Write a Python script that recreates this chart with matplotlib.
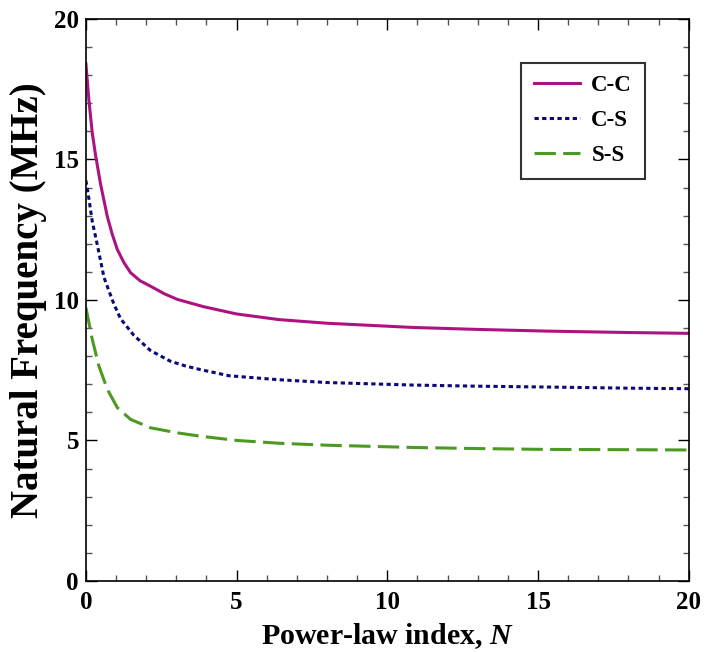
import matplotlib
matplotlib.use("Agg")
import matplotlib.pyplot as plt
from matplotlib.ticker import MultipleLocator

plt.rcParams["mathtext.fontset"] = "custom"
plt.rcParams["mathtext.it"] = "Liberation Serif:italic:bold"
plt.rcParams["mathtext.rm"] = "Liberation Serif:bold"

# Data
n_cc = [0.0, 0.1, 0.21, 0.32, 0.49, 0.71, 0.87, 1.04, 1.25, 1.48, 1.8, 2.14, 2.6, 3.03, 3.9, 5.0, 6.4, 8.0, 10.85, 13.0, 15.3, 18.0, 20.0]
f_cc = [18.4, 17.1, 15.95, 15.15, 14.1, 12.97, 12.35, 11.8, 11.35, 10.97, 10.68, 10.49, 10.22, 10.02, 9.76, 9.5, 9.3, 9.17, 9.02, 8.95, 8.89, 8.84, 8.81]

n_cs = [0.0, 0.1, 0.21, 0.38, 0.6, 0.82, 0.93, 1.15, 1.59, 2.14, 2.8, 3.3, 3.8, 4.76, 6.4, 8.0, 10.85, 13.0, 15.3, 18.0, 20.0]
f_cs = [14.25, 13.6, 12.8, 11.95, 10.8, 10.16, 9.85, 9.33, 8.74, 8.2, 7.82, 7.65, 7.52, 7.3, 7.16, 7.06, 6.97, 6.93, 6.9, 6.86, 6.84]

n_ss = [0.0, 0.21, 0.43, 0.71, 1.04, 1.48, 2.14, 3.03, 3.8, 5.0, 6.4, 8.0, 10.85, 13.0, 15.3, 18.0, 20.0]
f_ss = [9.73, 8.6, 7.65, 6.82, 6.17, 5.75, 5.45, 5.27, 5.15, 5.0, 4.9, 4.83, 4.75, 4.71, 4.68, 4.67, 4.66]

labels = ["C-C", "C-S", "S-S"]

fig = plt.figure(figsize=(7.10, 6.52), dpi=100)
ax = fig.add_axes([0.121, 0.109, 0.849, 0.862])

font = "Liberation Serif"
ax.plot(n_cc, f_cc, color="#ab1480", lw=2.2, label=labels[0], solid_joinstyle="round")
ax.plot(n_cs, f_cs, color="#0a0a78", lw=2.2, linestyle=(0, (1.4, 1.1)), label=labels[1])
ax.plot(n_ss, f_ss, color="#4c9a22", lw=2.2, linestyle=(0, (7, 2.4)), label=labels[2])

ax.set_xlim(0, 20)
ax.set_ylim(0, 20)
ax.xaxis.set_major_locator(MultipleLocator(5))
ax.xaxis.set_minor_locator(MultipleLocator(1))
ax.yaxis.set_major_locator(MultipleLocator(5))
ax.yaxis.set_minor_locator(MultipleLocator(1))
ax.tick_params(which="both", direction="in", top=True, right=True, width=1.0)
ax.tick_params(which="major", length=8, pad=5)
ax.tick_params(axis="x", which="major", pad=7)
ax.tick_params(which="minor", length=4, color="#555555")
for lab in ax.get_xticklabels() + ax.get_yticklabels():
    lab.set_fontfamily(font)
    lab.set_fontweight("bold")
    lab.set_fontsize(18)
for s in ax.spines.values():
    s.set_linewidth(1.2)

ax.set_xlabel("Power-law index, $\\mathit{N}$", fontfamily=font, fontweight="bold", fontsize=21.5, labelpad=5)
ax.set_ylabel("Natural Frequency (MHz)", fontfamily=font, fontweight="bold", fontsize=28, labelpad=5)

leg = ax.legend(loc="upper right", bbox_to_anchor=(0.927, 0.922), borderaxespad=0.0,
                frameon=True, fancybox=False, edgecolor="black",
                prop={"family": font, "weight": "bold", "size": 16.5},
                handlelength=2.0, handletextpad=0.5, borderpad=0.55, labelspacing=0.6)
leg.get_frame().set_linewidth(1.5)

fig.savefig("out.png", dpi=100)
